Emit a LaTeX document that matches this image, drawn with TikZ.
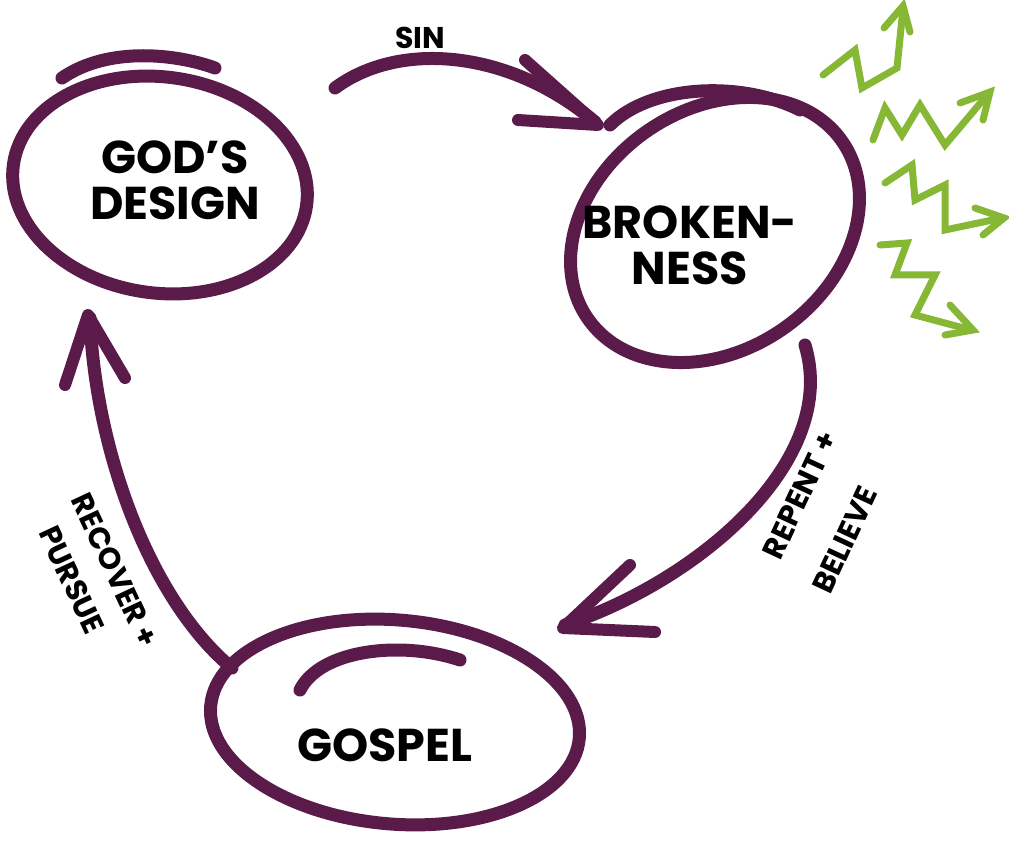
\documentclass[tikz,border=0pt]{standalone}
\usepackage{fontspec}
\setmainfont{Poppins}
\usetikzlibrary{arrows.meta}
\definecolor{plum}{HTML}{5A1A4A}
\definecolor{lime}{HTML}{86B836}
\begin{document}
\begin{tikzpicture}[x=1pt,y=-1pt,
  ring/.style={draw=plum,line width=13pt},
  flow/.style={draw=plum,line width=13pt,line cap=round},
  head/.style={draw=plum,line width=12pt,line cap=round,line join=round},
  zig/.style={draw=lime,line width=7pt,line join=miter,line cap=round},
  lbl/.style={font=\bfseries\fontsize{46}{46}\selectfont,align=center,text=black},
  small/.style={font=\bfseries\fontsize{30}{30}\selectfont,align=center,text=black,inner sep=0pt}]
\useasboundingbox (0,0) rectangle (1009,842);
% green zigzags
\draw[zig] (823,75) -- (855,50) -- (862,88) -- (897,68) -- (903,8);
\draw[zig] (884,28) -- (903,6) -- (910,32);
\draw[zig] (873,140) -- (885,108) -- (902,135) -- (920,105) -- (945,145) -- (988,94);
\draw[zig] (960,103) -- (990,92) -- (983,120);
\draw[zig] (885,183) -- (912,165) -- (915,200) -- (945,185) -- (945,230) -- (1002,218);
\draw[zig] (975,208) -- (1004,218) -- (983,235);
\draw[zig] (880,245) -- (907,243) -- (895,275) -- (935,275) -- (915,315) -- (971,330);
\draw[zig] (950,305) -- (973,330) -- (945,335);
% ellipses
\draw[ring,rotate around={-8:(160,185)}] (160,185) ellipse [x radius=148,y radius=108];
\draw[flow] (62,78) .. controls (110,45) and (180,55) .. (215,68);
\draw[ring,rotate around={35:(715,230)}] (715,230) ellipse [x radius=155,y radius=120];
\draw[flow] (610,125) .. controls (650,85) and (740,80) .. (800,110);
\draw[ring,rotate around={-5:(395,722)}] (395,722) ellipse [x radius=185,y radius=102];
\draw[flow] (300,690) .. controls (320,650) and (400,640) .. (460,660);
% texts
\node[lbl] (gd) at (175,180) {GOD'S\\DESIGN};
\node[lbl] (br) at (690,245) {BROKEN-\\NESS};
\node[lbl] (gs) at (385,745) {GOSPEL};
% connectors
\coordinate (s1) at (335,88); \coordinate (s2) at (595,122);
\draw[flow] (s1) .. controls (400,40) and (510,50) .. (s2);
\draw[head] (525,60) -- (598,125) -- (518,120);
\coordinate (r1) at (805,345); \coordinate (r2) at (565,625);
\draw[flow] (r1) .. controls (840,460) and (700,580) .. (r2);
\draw[head] (630,565) -- (563,628) -- (655,632);
\coordinate (p1) at (232,668); \coordinate (p2) at (90,318);
\draw[flow] (p1) .. controls (150,600) and (95,450) .. (p2);
\draw[head] (65,385) -- (88,315) -- (125,378);
\node[small] (sin) at (420,38) {SIN};
\node[small,rotate=65] (rb1) at (800,495) {REPENT +};
\node[small,rotate=65] (rb2) at (845,540) {BELIEVE};
\node[small,rotate=-65] (rp1) at (115,570) {RECOVER +};
\node[small,rotate=-65] (rp2) at (72,580) {PURSUE};
\end{tikzpicture}
\end{document}
